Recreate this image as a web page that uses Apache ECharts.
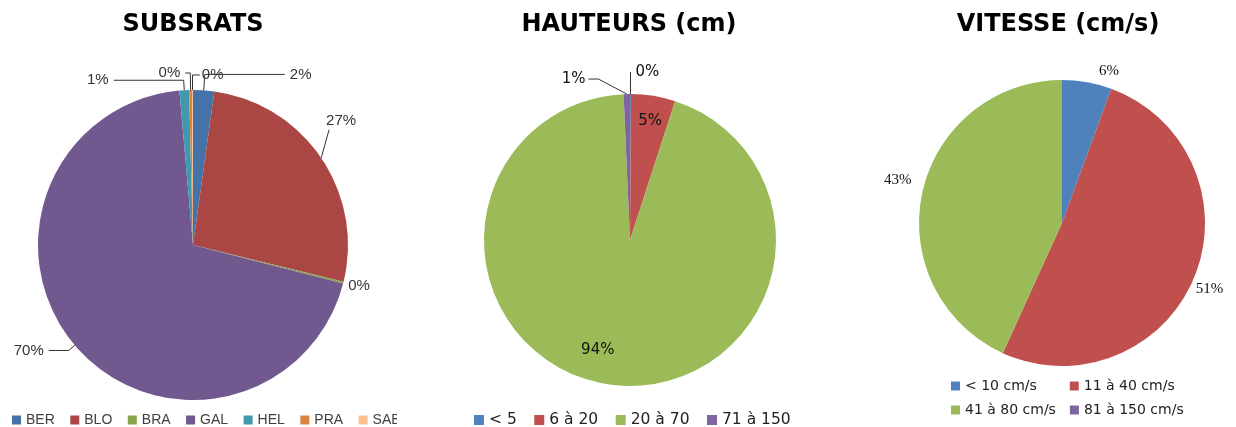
<!DOCTYPE html>
<html>
<head>
<meta charset="utf-8">
<script src="https://cdn.jsdelivr.net/npm/echarts@6/dist/echarts.min.js"></script>
<style>
html,body{margin:0;padding:0;background:#fff;}
.c{position:absolute;top:0;height:427px;overflow:hidden;}
</style>
</head>
<body>
<div id="c1" class="c" style="left:0;width:397px;"></div>
<div id="c2" class="c" style="left:400px;width:430px;"></div>
<div id="c3" class="c" style="left:830px;width:406px;"></div>
<script>
// ---- data ----
const subTitle = 'SUBSRATS';
const subCats = ['BER', 'BLO', 'BRA', 'GAL', 'HEL', 'PRA', 'SAB'];
const subVals = [2.2, 26.6, 0.2, 69.6, 1.0, 0.3, 0.1];

const hautTitle = 'HAUTEURS (cm)';
const hautCats = ['< 5', '6 à 20', '20 à 70', '71 à 150'];
const hautVals = [0.1, 4.9, 94.3, 0.7];

const vitTitle = 'VITESSE (cm/s)';
const vitCats = ['< 10 cm/s', '11 à 40 cm/s', '41 à 80 cm/s', '81 à 150 cm/s'];
const vitVals = [5.6, 51.2, 43.2, 0];

// ---- styles ----
const subColors = ['#4572A7', '#AA4643', '#89A54E', '#71588F', '#4198AF', '#DB843D', '#FAC08F'];
const xlColors = ['#4F81BD', '#C0504D', '#9BBB59', '#8064A2'];
const titleFont = {fontFamily: 'DejaVu Sans', fontWeight: 'bold', fontSize: 24, color: '#000'};
const pct = p => Math.round(p.percent) + '%';

function titleOpt(text, cx) {
  return {text: text, left: cx, top: 8, textAlign: 'center', textStyle: titleFont};
}
function shifted(p, dx, dy) {
  const r = p.labelRect;
  return {x: r.x + dx, y: r.y + dy, w: r.width, h: r.height};
}

// per-slice leader line settings for chart 1
const sub1Lines = [
  {length: 16, length2: 80},
  {length: 12, length2: 10},
  {length: 4, length2: 0, show: false},
  {length: 8, length2: 20},
  {length: 10, length2: 70},
  {length: 17, length2: 5},
  {length: 15, length2: 2}
];

// ---- chart 1 ----
const ch1 = echarts.init(document.getElementById('c1'));
ch1.setOption({
  animation: false,
  color: subColors,
  title: titleOpt(subTitle, 188),
  legend: {
    data: subCats, left: 12, top: 413, width: 800, padding: 0, itemWidth: 9, itemHeight: 9, itemGap: 15.5,
    icon: 'rect', textStyle: {fontFamily: 'Liberation Sans', fontSize: 14, color: '#404040'}
  },
  series: [{
    type: 'pie', center: [193, 245], radius: 155, startAngle: 90, clockwise: true,
    avoidLabelOverlap: false,
    data: subCats.map((n, i) => ({name: n, value: subVals[i], labelLine: sub1Lines[i]})),
    label: {formatter: pct, fontFamily: 'Liberation Sans', fontSize: 15, color: '#333', overflow: 'none'},
    labelLine: {lineStyle: {color: '#333', width: 1}},
    labelLayout: function (p) {
      if (p.dataIndex === 1) {
        const dx = -20, dy = -30, r = shifted(p, dx, dy);
        const p0 = p.labelLinePoints[0];
        const p2 = [r.x + 3, r.y + r.h + 1];
        return {dx: dx, dy: dy, labelLinePoints: [p0, p2, p2]};
      }
      if (p.dataIndex === 2) return {dx: -4, dy: 2};
      if (p.dataIndex === 6) {
        const dx = 38, dy = 0, r = shifted(p, dx, dy);
        const p0 = p.labelLinePoints[0];
        const cy = r.y + r.h / 2;
        return {dx: dx, dy: dy, labelLinePoints: [p0, [p0[0], cy], [r.x - 2, cy]]};
      }
      return {};
    },
    emphasis: {disabled: true}
  }]
});

// ---- chart 2 ----
const hautLines = [
  {length: 22, length2: 0},
  {},
  {},
  {length: 15, length2: 36}
];
const ch2 = echarts.init(document.getElementById('c2'));
ch2.setOption({
  animation: false,
  color: xlColors,
  title: titleOpt(hautTitle, 224),
  legend: {
    data: hautCats, left: 74, top: 412, padding: 0, itemWidth: 10, itemHeight: 10, itemGap: 17.5,
    icon: 'rect', textStyle: {fontFamily: 'DejaVu Sans', fontSize: 15.5, color: '#222'}
  },
  series: [{
    type: 'pie', center: [230, 240], radius: 146, startAngle: 90,
    avoidLabelOverlap: false,
    data: hautCats.map((n, i) => {
      const d = {name: n, value: hautVals[i], labelLine: hautLines[i]};
      if (i === 1 || i === 2) d.label = {position: 'inside'};
      return d;
    }),
    label: {formatter: pct, fontFamily: 'DejaVu Sans', fontSize: 15, color: '#111', overflow: 'none'},
    labelLine: {lineStyle: {color: '#333', width: 1}},
    labelLayout: function (p) {
      if (p.dataIndex === 1) return {dx: 8, dy: -44};
      if (p.dataIndex === 2) return {dx: -22, dy: 35};
      if (p.dataIndex === 3) {
        const r = shifted(p, 0, 0);
        const p0 = p.labelLinePoints[0];
        const cy = r.y + r.h / 2;
        return {labelLinePoints: [p0, [r.x + r.w + 13, cy], [r.x + r.w + 3, cy]]};
      }
      return {};
    },
    emphasis: {disabled: true}
  }]
});

// ---- chart 3 ----
const ch3 = echarts.init(document.getElementById('c3'));
const legStyle3 = {fontFamily: 'DejaVu Sans', fontSize: 14, color: '#222'};
ch3.setOption({
  animation: false,
  color: xlColors,
  title: titleOpt(vitTitle, 223),
  legend: [
    {data: vitCats.slice(0, 2), left: 121, top: 379, padding: 0, itemWidth: 9, itemHeight: 9, itemGap: 33, icon: 'rect', textStyle: legStyle3},
    {data: vitCats.slice(2, 4), left: 121, top: 403, padding: 0, itemWidth: 9, itemHeight: 9, itemGap: 14, icon: 'rect', textStyle: legStyle3}
  ],
  series: [{
    type: 'pie', center: [232, 223], radius: 143, startAngle: 90,
    avoidLabelOverlap: false,
    data: vitCats.map((n, i) => {
      const d = {name: n, value: vitVals[i]};
      if (vitVals[i] === 0) d.label = {show: false};
      return d;
    }),
    label: {formatter: pct, fontFamily: 'Liberation Serif', fontSize: 15, color: '#111', overflow: 'none'},
    labelLine: {show: false, length: 6, length2: 0},
    labelLayout: function (p) {
      if (p.dataIndex === 0) return {dx: 6, dy: -5};
      if (p.dataIndex === 1) return {dx: -9, dy: 9};
      if (p.dataIndex === 2) return {dx: 0, dy: -11};
      return {};
    },
    emphasis: {disabled: true}
  }]
});
</script>
</body>
</html>
